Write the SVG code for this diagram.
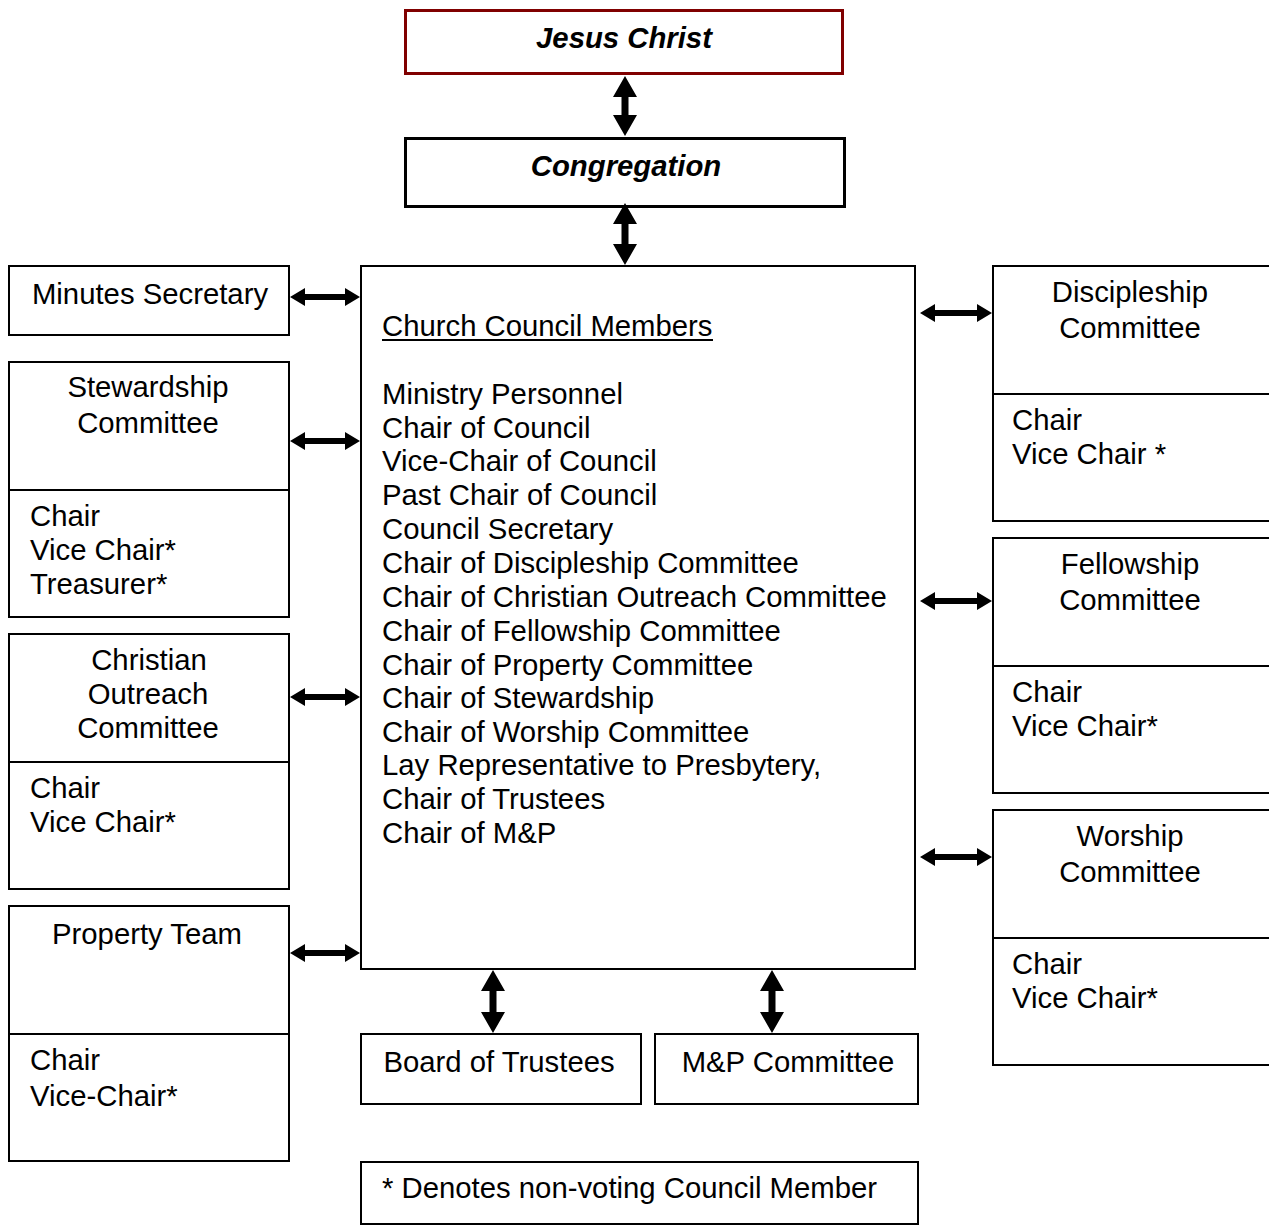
<svg xmlns="http://www.w3.org/2000/svg" width="1269" height="1226" viewBox="0 0 1269 1226">
<style>
text{font-family:"Liberation Sans",Arial,sans-serif;font-size:29.3px;fill:#000}
.c{text-anchor:middle}
.t{font-weight:bold;font-style:italic}
.box{fill:#fff;stroke:#000;stroke-width:2}
.div{stroke:#000;stroke-width:2}
.arr{fill:#000}
</style>
<rect width="1269" height="1226" fill="#fff"/>
<g id="jesus">
<rect x="405.5" y="10.5" width="437" height="63" fill="#fff" stroke="#800000" stroke-width="3"/>
<text class="c t" x="624" y="48">Jesus Christ</text>
</g>
<g id="congregation">
<rect x="405.5" y="138.5" width="439" height="68" fill="#fff" stroke="#000" stroke-width="3"/>
<text class="c t" x="626" y="176">Congregation</text>
</g>
<g id="council">
<rect class="box" x="361" y="266" width="554" height="703"/>
<text x="382" y="336">Church Council Members</text>
<line x1="382" y1="340" x2="713" y2="340" stroke="#000" stroke-width="2"/>
<text x="382" y="404">Ministry Personnel</text>
<text x="382" y="438">Chair of Council</text>
<text x="382" y="471">Vice-Chair of Council</text>
<text x="382" y="505">Past Chair of Council</text>
<text x="382" y="539">Council Secretary</text>
<text x="382" y="573">Chair of Discipleship Committee</text>
<text x="382" y="607">Chair of Christian Outreach Committee</text>
<text x="382" y="641">Chair of Fellowship Committee</text>
<text x="382" y="675">Chair of Property Committee</text>
<text x="382" y="708">Chair of Stewardship</text>
<text x="382" y="742">Chair of Worship Committee</text>
<text x="382" y="775">Lay Representative to Presbytery,</text>
<text x="382" y="809">Chair of Trustees</text>
<text x="382" y="843">Chair of M&amp;P</text>
</g>
<g id="minutes">
<rect class="box" x="9" y="266" width="280" height="69"/>
<text class="c" x="150" y="304">Minutes Secretary</text>
</g>
<g id="stewardship">
<rect class="box" x="9" y="362" width="280" height="255"/>
<line class="div" x1="9" y1="490" x2="289" y2="490"/>
<text class="c" x="148" y="397">Stewardship</text>
<text class="c" x="148" y="433">Committee</text>
<text x="30" y="526">Chair</text>
<text x="30" y="560">Vice Chair*</text>
<text x="30" y="594">Treasurer*</text>
</g>
<g id="outreach">
<rect class="box" x="9" y="634" width="280" height="255"/>
<line class="div" x1="9" y1="762" x2="289" y2="762"/>
<text class="c" x="149" y="670">Christian</text>
<text class="c" x="148" y="704">Outreach</text>
<text class="c" x="148" y="738">Committee</text>
<text x="30" y="798">Chair</text>
<text x="30" y="832">Vice Chair*</text>
</g>
<g id="property">
<rect class="box" x="9" y="906" width="280" height="255"/>
<line class="div" x1="9" y1="1034" x2="289" y2="1034"/>
<text class="c" x="147" y="944">Property Team</text>
<text x="30" y="1070">Chair</text>
<text x="30" y="1106">Vice-Chair*</text>
</g>
<g id="discipleship">
<rect class="box" x="993" y="266" width="280" height="255"/>
<line class="div" x1="993" y1="394" x2="1269" y2="394"/>
<text class="c" x="1130" y="302">Discipleship</text>
<text class="c" x="1130" y="338">Committee</text>
<text x="1012" y="430">Chair</text>
<text x="1012" y="464">Vice Chair *</text>
</g>
<g id="fellowship">
<rect class="box" x="993" y="538" width="280" height="255"/>
<line class="div" x1="993" y1="666" x2="1269" y2="666"/>
<text class="c" x="1130" y="574">Fellowship</text>
<text class="c" x="1130" y="610">Committee</text>
<text x="1012" y="702">Chair</text>
<text x="1012" y="736">Vice Chair*</text>
</g>
<g id="worship">
<rect class="box" x="993" y="810" width="280" height="255"/>
<line class="div" x1="993" y1="938" x2="1269" y2="938"/>
<text class="c" x="1130" y="846">Worship</text>
<text class="c" x="1130" y="882">Committee</text>
<text x="1012" y="974">Chair</text>
<text x="1012" y="1008">Vice Chair*</text>
</g>
<g id="trustees">
<rect class="box" x="361" y="1034" width="280" height="70"/>
<text class="c" x="499" y="1072">Board of Trustees</text>
</g>
<g id="mp">
<rect class="box" x="655" y="1034" width="263" height="70"/>
<text class="c" x="788" y="1072">M&amp;P Committee</text>
</g>
<g id="note">
<rect class="box" x="361" y="1162" width="557" height="62"/>
<text x="382" y="1198">* Denotes non-voting Council Member</text>
</g>
<g id="connectors" class="arr">
<polygon points="625,76 637,97 628.5,97 628.5,115 637,115 625,136 613,115 621.5,115 621.5,97 613,97"/>
<polygon points="625,203 637,224 628.5,224 628.5,244 637,244 625,265 613,244 621.5,244 621.5,224 613,224"/>
<polygon points="493,970 505,991 496.5,991 496.5,1012 505,1012 493,1033 481,1012 489.5,1012 489.5,991 481,991"/>
<polygon points="772,970 784,991 775.5,991 775.5,1012 784,1012 772,1033 760,1012 768.5,1012 768.5,991 760,991"/>
<polygon points="290,297 305,288 305,294 345,294 345,288 360,297 345,306 345,300 305,300 305,306"/>
<polygon points="290,441 305,432 305,438 345,438 345,432 360,441 345,450 345,444 305,444 305,450"/>
<polygon points="290,697 305,688 305,694 345,694 345,688 360,697 345,706 345,700 305,700 305,706"/>
<polygon points="290,953 305,944 305,950 345,950 345,944 360,953 345,962 345,956 305,956 305,962"/>
<polygon points="920,313 935,304 935,310 977,310 977,304 992,313 977,322 977,316 935,316 935,322"/>
<polygon points="920,601 935,592 935,598 977,598 977,592 992,601 977,610 977,604 935,604 935,610"/>
<polygon points="920,857 935,848 935,854 977,854 977,848 992,857 977,866 977,860 935,860 935,866"/>
</g>
</svg>
